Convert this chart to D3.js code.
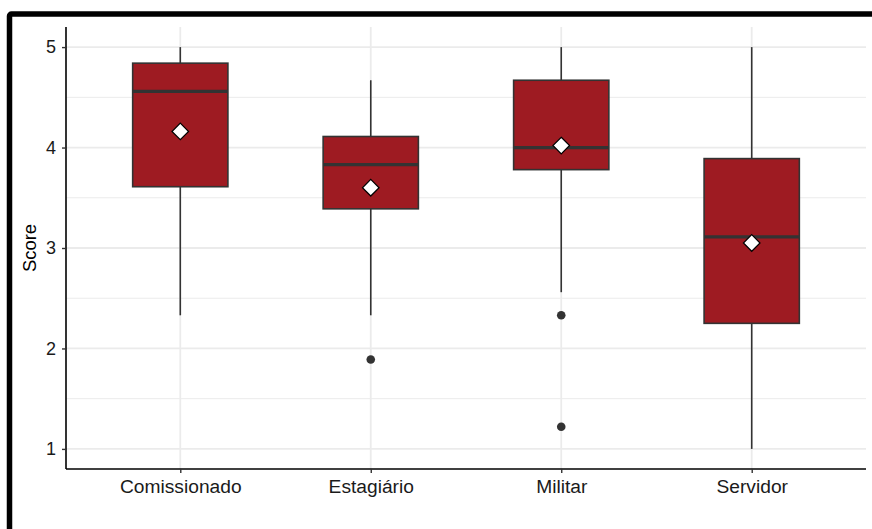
<!DOCTYPE html>
<html>
<head>
<meta charset="utf-8">
<script src="https://cdn.jsdelivr.net/npm/d3@7"></script>
<style>
  html, body { margin: 0; padding: 0; background: #fff; }
  svg { display: block; font-family: "Liberation Sans", Arial, sans-serif; }
</style>
</head>
<body>
<svg id="chart" width="872" height="529"></svg>
<script>
// Score distribution per job category (five-number summary + mean)
const categories = ["Comissionado", "Estagiário", "Militar", "Servidor"];
const whiskerLow  = [2.33, 2.33, 2.56, 1.0];
const q1          = [3.61, 3.39, 3.78, 2.25];
const median      = [4.56, 3.83, 4.0, 3.11];
const q3          = [4.84, 4.11, 4.67, 3.89];
const whiskerHigh = [5.0, 4.67, 5.0, 5.0];
const means       = [4.16, 3.6, 4.02, 3.05];
const outliers    = [[], [1.89], [2.33, 1.22], []];
const yTicks = [1, 2, 3, 4, 5];
const yMinor = [1.5, 2.5, 3.5, 4.5];

const svg = d3.select("#chart");
const W = 872, H = 529;

// outer frame
svg.append("rect")
  .attr("x", 9.5).attr("y", 14)
  .attr("width", W + 20).attr("height", H + 20)
  .attr("fill", "none").attr("stroke", "#000").attr("stroke-width", 5.5)
  .attr("rx", 2);

const panel = { left: 66, right: 866, top: 27, bottom: 469 };

const x = d3.scalePoint()
  .domain(categories)
  .range([panel.left, panel.right])
  .padding(0.6);
const step = x.step();
const boxW = step * 0.5;

const y = d3.scaleLinear()
  .domain([0.8, 5.2])
  .range([panel.bottom, panel.top]);

// grid
const grid = svg.append("g");
grid.selectAll("line.minor").data(yMinor).join("line")
  .attr("x1", panel.left).attr("x2", panel.right)
  .attr("y1", d => y(d)).attr("y2", d => y(d))
  .attr("stroke", "#ebebeb").attr("stroke-width", 1);
grid.selectAll("line.major").data(yTicks).join("line")
  .attr("x1", panel.left).attr("x2", panel.right)
  .attr("y1", d => y(d)).attr("y2", d => y(d))
  .attr("stroke", "#ebebeb").attr("stroke-width", 1.8);
grid.selectAll("line.vmajor").data(categories).join("line")
  .attr("x1", d => x(d)).attr("x2", d => x(d))
  .attr("y1", panel.top).attr("y2", panel.bottom)
  .attr("stroke", "#ebebeb").attr("stroke-width", 1.8);

// boxes
const data = categories.map((c, i) => ({
  c, lo: whiskerLow[i], q1: q1[i], med: median[i], q3: q3[i],
  hi: whiskerHigh[i], mean: means[i], out: outliers[i]
}));
const dark = "#333333";
const g = svg.append("g");
const box = g.selectAll("g.box").data(data).join("g");

box.append("line")
  .attr("x1", d => x(d.c)).attr("x2", d => x(d.c))
  .attr("y1", d => y(d.hi)).attr("y2", d => y(d.q3))
  .attr("stroke", dark).attr("stroke-width", 1.6);
box.append("line")
  .attr("x1", d => x(d.c)).attr("x2", d => x(d.c))
  .attr("y1", d => y(d.q1)).attr("y2", d => y(d.lo))
  .attr("stroke", dark).attr("stroke-width", 1.6);
box.append("rect")
  .attr("x", d => x(d.c) - boxW / 2).attr("width", boxW)
  .attr("y", d => y(d.q3)).attr("height", d => y(d.q1) - y(d.q3))
  .attr("fill", "#9e1b22").attr("stroke", dark).attr("stroke-width", 1.6);
box.append("line")
  .attr("x1", d => x(d.c) - boxW / 2).attr("x2", d => x(d.c) + boxW / 2)
  .attr("y1", d => y(d.med)).attr("y2", d => y(d.med))
  .attr("stroke", dark).attr("stroke-width", 3.2);
box.selectAll("circle").data(d => d.out.map(v => ({ c: d.c, v }))).join("circle")
  .attr("cx", d => x(d.c)).attr("cy", d => y(d.v)).attr("r", 4.3)
  .attr("fill", dark);
box.append("path")
  .attr("d", d => {
    const cx = x(d.c), cy = y(d.mean), r = 8.3;
    return `M${cx},${cy - r}L${cx + r},${cy}L${cx},${cy + r}L${cx - r},${cy}Z`;
  })
  .attr("fill", "#fff").attr("stroke", "#000").attr("stroke-width", 1.2);

// axes
const yAxis = svg.append("g")
  .attr("transform", `translate(${panel.left},0)`)
  .call(d3.axisLeft(y).tickValues(yTicks).tickFormat(d3.format("d")).tickSize(4).tickPadding(6));
const xAxis = svg.append("g")
  .attr("transform", `translate(0,${panel.bottom})`)
  .call(d3.axisBottom(x).tickSize(4).tickPadding(6));

[yAxis, xAxis].forEach(a => {
  a.select(".domain").attr("stroke", "#000").attr("stroke-width", 1.6);
  a.selectAll(".tick line").attr("stroke", dark).attr("stroke-width", 1.4);
  a.selectAll(".tick text").attr("fill", "#1a1a1a")
    .attr("font-family", "'Liberation Sans', Arial, sans-serif");
});
yAxis.selectAll(".tick text").attr("font-size", 18);
xAxis.selectAll(".tick text").attr("font-size", 19.2);
yAxis.select(".domain").attr("d", `M0,${panel.top}V${panel.bottom}`);
xAxis.select(".domain").attr("d", `M${panel.left},0H${panel.right}`);

// y axis title
svg.append("text")
  .attr("transform", `translate(36,${(panel.top + panel.bottom) / 2}) rotate(-90)`)
  .attr("text-anchor", "middle")
  .attr("font-size", 18.4).attr("fill", "#000")
  .text("Score");
</script>
</body>
</html>
